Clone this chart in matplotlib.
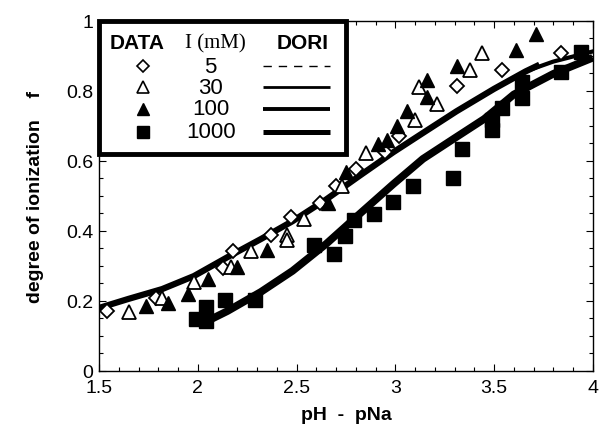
import matplotlib
matplotlib.use("Agg")
import matplotlib.pyplot as plt
from matplotlib.ticker import MultipleLocator, FuncFormatter
from matplotlib.patches import Rectangle

plt.rcParams['font.family'] = ['Liberation Sans', 'DejaVu Sans']

# ---- data ----
x_5 = [1.54, 1.79, 2.13, 2.18, 2.37, 2.47, 2.62, 2.70, 2.80, 2.95, 3.02, 3.31, 3.54, 3.84]
y_5 = [0.171, 0.209, 0.294, 0.343, 0.389, 0.440, 0.480, 0.528, 0.577, 0.626, 0.671, 0.814, 0.860, 0.909]

x_30 = [1.65, 1.82, 1.98, 2.17, 2.27, 2.45, 2.45, 2.54, 2.73, 2.85, 3.10, 3.21, 3.12, 3.38, 3.44]
y_30 = [0.169, 0.209, 0.254, 0.297, 0.343, 0.389, 0.375, 0.434, 0.528, 0.623, 0.717, 0.763, 0.811, 0.860, 0.909]

x_100 = [1.74, 1.85, 1.95, 2.05, 2.20, 2.35, 2.66, 2.75, 2.91, 2.96, 3.01, 3.06, 3.16, 3.16, 3.31, 3.61, 3.71]
y_100 = [0.186, 0.194, 0.220, 0.263, 0.297, 0.346, 0.480, 0.569, 0.649, 0.660, 0.700, 0.743, 0.783, 0.831, 0.871, 0.917, 0.963]

x_1000 = [1.99, 2.04, 2.04, 2.14, 2.29, 2.59, 2.69, 2.745, 2.79, 2.89, 2.99, 3.09, 3.29, 3.34,
          3.49, 3.49, 3.54, 3.64, 3.64, 3.84, 3.94]
y_1000 = [0.149, 0.183, 0.143, 0.203, 0.203, 0.360, 0.334, 0.386, 0.431, 0.449, 0.483, 0.529, 0.551, 0.634,
          0.717, 0.689, 0.751, 0.780, 0.826, 0.854, 0.911]

# DORI model curves
cx_low = [1.5, 1.65, 1.82, 1.98, 2.15, 2.32, 2.48, 2.65, 2.82, 2.99, 3.14, 3.31, 3.5, 3.66, 3.8, 4.0]
cy_low = [0.180, 0.206, 0.234, 0.271, 0.325, 0.377, 0.428, 0.490, 0.558, 0.625, 0.680, 0.742, 0.806, 0.856, 0.884, 0.913]
cx_100 = [1.5, 1.65, 1.82, 1.98, 2.15, 2.32, 2.48, 2.65, 2.82, 2.99, 3.14, 3.31, 3.5, 3.66, 3.73]
cy_100 = [0.180, 0.206, 0.234, 0.271, 0.325, 0.377, 0.428, 0.490, 0.558, 0.625, 0.680, 0.742, 0.806, 0.856, 0.875]
cx_1000 = [2.05, 2.15, 2.32, 2.48, 2.65, 2.82, 2.99, 3.14, 3.3, 3.45, 3.6, 3.8, 4.0]
cy_1000 = [0.143, 0.171, 0.226, 0.286, 0.363, 0.449, 0.534, 0.606, 0.665, 0.720, 0.790, 0.849, 0.895]

legend_values = ["5", "30", "100", "1000"]

# ---- figure ----
fig = plt.figure(figsize=(6.0, 4.31), dpi=100)
ax = fig.add_axes([0.165, 0.137, 0.823, 0.812])

ax.plot(cx_low, cy_low, color='black', lw=1.5, ls=(0, (6, 4)), zorder=2)
ax.plot(cx_low, cy_low, color='black', lw=3.0, solid_joinstyle='round', zorder=2)
ax.plot(cx_100, cy_100, color='black', lw=4.5, solid_capstyle='butt', solid_joinstyle='round', zorder=2)
ax.plot(cx_1000, cy_1000, color='black', lw=5.5, solid_capstyle='butt', solid_joinstyle='round', zorder=2)

ax.plot(x_5, y_5, ls='none', marker='D', ms=7.5, mfc='white', mec='black', mew=1.3, zorder=3)
ax.plot(x_30, y_30, ls='none', marker='^', ms=9.5, mfc='white', mec='black', mew=1.3, zorder=3)
ax.plot(x_100, y_100, ls='none', marker='^', ms=9.5, mfc='black', mec='black', zorder=3)
ax.plot(x_1000, y_1000, ls='none', marker='s', ms=10, mfc='black', mec='black', zorder=3)

ax.set_xlim(1.5, 4.0)
ax.set_ylim(0, 1)
ax.xaxis.set_major_locator(MultipleLocator(0.5))
ax.xaxis.set_minor_locator(MultipleLocator(0.1))
ax.yaxis.set_major_locator(MultipleLocator(0.2))
ax.yaxis.set_minor_locator(MultipleLocator(0.05))
fmt = FuncFormatter(lambda v, p: ('%g' % round(v, 3)))
ax.xaxis.set_major_formatter(fmt)
ax.yaxis.set_major_formatter(fmt)
ax.tick_params(which='both', direction='in', top=True, right=True, labelsize=14, width=0.8)
ax.tick_params(which='major', length=5)
ax.tick_params(axis='x', which='major', pad=6)
ax.tick_params(axis='y', which='major', pad=4)
ax.tick_params(which='minor', length=3)
for s in ax.spines.values():
    s.set_linewidth(1.0)

ax.set_xlabel('pH  -  pNa', fontsize=14, fontweight='bold', labelpad=7)
ax.set_ylabel('degree of ionization    f', fontsize=14, fontweight='bold', labelpad=16)

# ---- custom legend table ----
T = ax.transAxes
ax.add_patch(Rectangle((0.0, 0.62), 0.50, 0.38, transform=T, facecolor='white',
                       edgecolor='black', lw=3.5, zorder=5, clip_on=False))
ax.text(0.078, 0.938, 'DATA', transform=T, ha='center', va='center', fontsize=15,
        fontweight='bold', zorder=6)
ax.text(0.236, 0.938, 'I (mM)', transform=T, ha='center', va='center', fontsize=15,
        family=['Liberation Serif', 'DejaVu Serif'], zorder=6)
ax.text(0.412, 0.938, 'DORI', transform=T, ha='center', va='center', fontsize=15,
        fontweight='bold', zorder=6)

rows_y = [0.871, 0.811, 0.749, 0.683]
marker_styles = [dict(marker='D', ms=6, mfc='white', mec='black', mew=1.2),
                 dict(marker='^', ms=8, mfc='white', mec='black', mew=1.2),
                 dict(marker='^', ms=8, mfc='black', mec='black'),
                 dict(marker='s', ms=8, mfc='black', mec='black')]
line_styles = [dict(lw=1.0, ls=(0, (6, 5))), dict(lw=2.0), dict(lw=2.8), dict(lw=3.6)]
for yy, lab, ms_, ls_ in zip(rows_y, legend_values, marker_styles, line_styles):
    ax.plot([0.09], [yy], transform=T, ls='none', zorder=6, clip_on=False, **ms_)
    ax.text(0.226, yy, lab, transform=T, ha='center', va='center', fontsize=16, zorder=6)
    ax.plot([0.332, 0.468], [yy, yy], transform=T, color='black', zorder=6,
            solid_capstyle='butt', clip_on=False, **ls_)

fig.savefig('out.png', dpi=100)
